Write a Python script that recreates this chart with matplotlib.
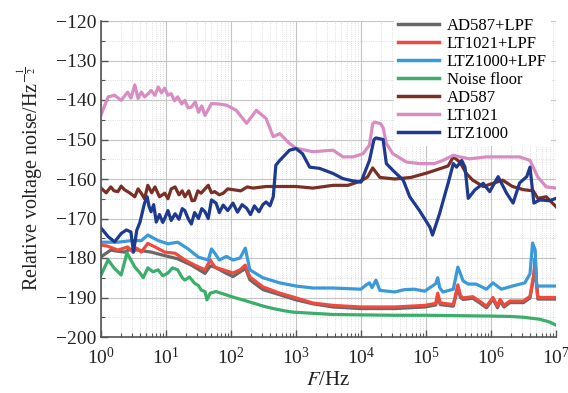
import numpy as np
import matplotlib
matplotlib.use("Agg")
import matplotlib.pyplot as plt
from matplotlib.ticker import LogLocator, MultipleLocator, NullFormatter

plt.rcParams['font.family'] = ['Liberation Serif', 'DejaVu Serif']
plt.rcParams['mathtext.fontset'] = 'stix'

# log10 of frequency and noise level (dB) for each trace
grey_lf = [0, 0.15, 0.26, 0.36, 0.45, 0.57, 0.77, 0.98, 1.18, 1.39, 1.6, 1.68, 1.75, 1.93, 2.03, 2.19, 2.22, 2.29,
           2.49, 2.75, 3.0, 3.26, 3.57, 4.0, 4.52, 4.98, 5.15, 5.18, 5.22, 5.42, 5.49, 5.53, 5.57, 5.72, 5.83, 5.93,
           6.03, 6.1, 6.14, 6.2, 6.29, 6.5, 6.6, 6.66, 6.68, 6.7, 6.72, 7.0]
grey_db = [-179.7, -178, -178.3, -178.5, -177.8, -178, -178.5, -179.4, -180.2, -181.8, -183.9, -182, -182.3, -183.9,
           -184.7, -183, -182.5, -185.5, -188, -189.3, -190.6, -191.6, -192.4, -192.8, -192.8, -192.4, -191.9,
           -189.5, -191.8, -192.2, -187.5, -190, -190.5, -190.2, -191.4, -192.6, -190.4, -192.6, -190.9, -192.4,
           -191.3, -191.3, -190.1, -184.5, -181, -186.5, -190.4, -190.4]

red_lf = [0, 0.1, 0.26, 0.41, 0.49, 0.55, 0.62, 0.72, 0.83, 0.98, 1.14, 1.29, 1.44, 1.6, 1.68, 1.75, 1.88, 2.03, 2.14,
          2.22, 2.29, 2.49, 2.75, 3.0, 3.26, 3.57, 4.0, 4.52, 4.98, 5.15, 5.18, 5.22, 5.42, 5.49, 5.53, 5.57, 5.72,
          5.83, 5.93, 6.03, 6.1, 6.14, 6.2, 6.29, 6.5, 6.6, 6.66, 6.68, 6.7, 6.72, 7.0]
red_db = [-176.7, -177, -178, -177.2, -178.5, -177.5, -178.5, -176.3, -177.2, -178.5, -178.8, -180.5, -181.8, -183,
          -180.5, -182.3, -183, -183.8, -183, -181.8, -184.8, -187.3, -188.9, -190.1, -191.4, -192, -192.4, -192.4,
          -192, -191.5, -188.9, -191.4, -191.8, -186.8, -189.5, -190.1, -189.8, -191, -192.2, -190, -192.2, -190.5,
          -192, -190.9, -190.9, -189.7, -184, -180, -186, -190, -190]

blue_lf = [0, 0.26, 0.46, 0.62, 0.72, 0.88, 1.03, 1.18, 1.34, 1.5, 1.65, 1.7, 1.76, 1.82, 1.93, 2.03, 2.14, 2.22,
           2.29, 2.49, 2.75, 3.0, 3.26, 3.57, 4.0, 4.08, 4.13, 4.17, 4.23, 4.29, 4.52, 4.67, 4.82, 4.98, 5.15, 5.18,
           5.21, 5.26, 5.42, 5.49, 5.53, 5.57, 5.65, 5.77, 5.93, 6.03, 6.16, 6.33, 6.52, 6.6, 6.64, 6.68, 6.7, 7.0]
blue_db = [-176, -176, -175.6, -175.6, -174.2, -175.6, -176.4, -176, -177.7, -179.8, -180.5, -177.7, -179, -180.5,
           -179.6, -180.5, -180, -177.5, -183, -185, -186.3, -187.1, -187.6, -187.6, -187.9, -186.8, -186.3, -187.5,
           -185.6, -188.2, -188.6, -188, -187.9, -188.4, -186.5, -185, -187.5, -188.6, -187.9, -182.3, -184, -185.8,
           -186.6, -186.6, -187.9, -186.3, -187.9, -187.1, -186.3, -184, -176.2, -178, -187.1, -187.1]

green_lf = [0, 0.11, 0.2, 0.31, 0.4, 0.52, 0.6, 0.65, 0.72, 0.8, 0.88, 0.95, 1.03, 1.1, 1.18, 1.25, 1.29, 1.36, 1.44,
            1.5, 1.54, 1.6, 1.63, 1.68, 1.77, 1.9, 2.03, 2.2, 2.34, 2.5, 2.65, 2.8, 2.95, 3.26, 3.57, 4.0, 4.5, 5.0,
            5.5, 6.0, 6.3, 6.5, 6.75, 6.9, 7.0]
green_db = [-184.3, -180.5, -182.5, -184.3, -178.7, -182.3, -183.8, -185, -182.5, -183.5, -183, -184.5, -183.8,
            -182.5, -183, -185, -185.6, -184.8, -186.4, -187, -188.1, -188.5, -190.6, -188.9, -188.5, -189.2, -189.9,
            -190.7, -191.4, -192.2, -192.8, -193.3, -193.7, -194, -194.3, -194.4, -194.5, -194.5, -194.6, -194.7,
            -194.8, -195, -195.5, -196.2, -197]

brown_lf = [0, 0.08, 0.15, 0.2, 0.26, 0.31, 0.36, 0.44, 0.52, 0.57, 0.62, 0.67, 0.72, 0.78, 0.83, 0.9, 0.98, 1.03,
            1.08, 1.14, 1.2, 1.25, 1.29, 1.35, 1.4, 1.44, 1.49, 1.54, 1.6, 1.65, 1.7, 1.75, 1.82, 1.88, 1.95, 2.03,
            2.15, 2.25, 2.34, 2.54, 2.75, 3.0, 3.26, 3.57, 3.8, 4.0, 4.1, 4.18, 4.29, 4.52, 4.77, 5.03, 5.34, 5.42,
            5.52, 5.62, 5.72, 5.88, 6.03, 6.18, 6.33, 6.5, 6.65, 6.72, 6.85, 7.0]
brown_db = [-162.3, -163.5, -162, -163, -163.2, -161.8, -162.7, -163.5, -164.5, -162.5, -163.6, -165, -161.6, -163.5,
            -162, -164.5, -163.6, -165, -162.5, -162, -164, -163, -164.5, -163, -165.5, -165.4, -163, -163.6, -162.5,
            -161.6, -163.5, -163.2, -164, -163.6, -162.5, -162.7, -163, -162, -162.3, -161.9, -161.9, -161.9, -162.3,
            -161.6, -161.6, -160.5, -159.5, -157.2, -159.6, -160, -159.6, -158.4, -156.7, -154.4, -155.7, -158.6,
            -160.3, -161.9, -161.1, -160.3, -161.9, -162.7, -163, -164.9, -164.5, -167]

pink_lf = [0, 0.11, 0.21, 0.31, 0.41, 0.46, 0.52, 0.57, 0.62, 0.67, 0.72, 0.77, 0.83, 0.88, 0.93, 0.98, 1.03, 1.08,
           1.13, 1.18, 1.24, 1.29, 1.34, 1.39, 1.45, 1.5, 1.55, 1.6, 1.7, 1.8, 1.93, 2.08, 2.24, 2.39, 2.54, 2.65,
           2.75, 2.9, 3.0, 3.26, 3.57, 3.72, 3.88, 4.03, 4.13, 4.18, 4.21, 4.3, 4.34, 4.39, 4.49, 4.7, 4.9, 5.13,
           5.26, 5.42, 5.52, 5.67, 5.93, 6.18, 6.44, 6.6, 6.72, 6.85, 7.0]
pink_db = [-143.8, -139.2, -138.8, -140.1, -138, -139.5, -136.2, -139.6, -138, -139.2, -138.5, -137.6, -138.8, -136.7,
           -138.2, -137, -138.8, -138.4, -140.2, -139.2, -141, -140.1, -142, -141.8, -140.5, -143.1, -141.5, -143.9,
           -140.9, -141, -141.3, -142.6, -145.9, -142.6, -144.7, -149.3, -148.5, -151, -152.2, -153.1, -152.7,
           -154.4, -154.4, -153.6, -151.4, -146, -145.6, -146, -147, -151, -153.6, -155.7, -156.1, -156.1, -155.3,
           -154, -154.4, -154.9, -154.4, -154.4, -154.4, -155.3, -159.5, -162, -162.3]

navy_lf = [0, 0.11, 0.21, 0.31, 0.39, 0.46, 0.5, 0.55, 0.6, 0.67, 0.71, 0.74, 0.77, 0.81, 0.85, 0.9, 0.95, 0.98, 1.03,
           1.08, 1.14, 1.2, 1.25, 1.29, 1.34, 1.39, 1.44, 1.5, 1.55, 1.6, 1.65, 1.7, 1.77, 1.82, 1.88, 1.95, 2.03,
           2.1, 2.17, 2.24, 2.3, 2.36, 2.43, 2.49, 2.54, 2.6, 2.65, 2.69, 2.75, 2.9, 3.0, 3.1, 3.21, 3.36, 3.57, 3.72,
           3.88, 4.0, 4.13, 4.2, 4.23, 4.34, 4.39, 4.49, 4.65, 4.75, 4.9, 5.06, 5.1, 5.21, 5.31, 5.34, 5.42, 5.47,
           5.55, 5.6, 5.65, 5.75, 5.88, 5.98, 6.11, 6.24, 6.34, 6.44, 6.55, 6.6, 6.66, 6.75, 6.9, 7.0]
navy_db = [-172.4, -174.6, -175.9, -173.8, -172.9, -173.4, -178.5, -173, -170.9, -166.1, -164.5, -167, -168.3,
           -166.5, -170.9, -169, -171, -170, -168, -170.5, -168.8, -170.2, -167.5, -168, -170, -171.4, -168.5, -170,
           -167.5, -168.3, -170, -165.3, -166.1, -168.5, -166.6, -168, -166.1, -168.4, -166.5, -167.4, -169, -166.8,
           -168.3, -166.5, -165.8, -166.8, -164.5, -156.5, -155.3, -152.7, -152.3, -153.6, -157, -157.3, -158.6,
           -159.9, -160.5, -160.8, -155.3, -150, -149.6, -150, -156.1, -157.8, -160.3, -164.5, -168, -172.2, -174.2,
           -168.7, -162.8, -161.1, -156.1, -157, -155.3, -157, -164.9, -162.8, -161.1, -163.2, -159.4, -163.6,
           -166.1, -161, -159.4, -157, -166.1, -165.3, -165.5, -164.9]

series = [
    ("AD587+LPF", grey_lf, grey_db, "#686868"),
    ("LT1021+LPF", red_lf, red_db, "#ee4b3e"),
    ("LTZ1000+LPF", blue_lf, blue_db, "#3a9ad9"),
    ("Noise floor", green_lf, green_db, "#3aae6a"),
    ("AD587", brown_lf, brown_db, "#7a2f25"),
    ("LT1021", pink_lf, pink_db, "#d98cc2"),
    ("LTZ1000", navy_lf, navy_db, "#1d3a8f"),
]

fig = plt.figure(figsize=(5.68, 3.93), dpi=100)
ax = fig.add_axes([101 / 568, 1 - 337 / 393, 455 / 568, 316 / 393])

for name, lf, db, col in series:
    ax.plot(10 ** np.array(lf), db, color=col, lw=2.3, label=name)

ax.set_xscale('log')
ax.set_xlim(1, 1e7)
ax.set_ylim(-200, -120)
ax.xaxis.set_major_locator(LogLocator(base=10, numticks=10))
ax.xaxis.set_minor_locator(LogLocator(base=10, subs=np.arange(2, 10), numticks=20))
ax.xaxis.set_minor_formatter(NullFormatter())
ax.yaxis.set_major_locator(MultipleLocator(10))
ax.yaxis.set_minor_locator(MultipleLocator(5))

# grid
ax.grid(which='major', color='#c4c4c4', lw=0.8, ls='-')
ax.grid(which='minor', color='#d4d4d4', lw=0.6, ls=':')
ax.set_axisbelow(True)

for s in ['top', 'right']:
    ax.spines[s].set_visible(False)
for s in ['left', 'bottom']:
    ax.spines[s].set_color('#555555')
    ax.spines[s].set_linewidth(1.2)

ax.tick_params(which='both', direction='in', colors='#555555', labelcolor='#222222', labelsize=14)
ax.tick_params(which='major', length=5, width=1)
ax.tick_params(which='minor', length=3, width=0.8)
ax.tick_params(axis='x', pad=7)

ax.set_xlabel(r"$F$/Hz", fontsize=15, color='#222222', labelpad=2)
ax.set_ylabel(r"Relative voltage noise/Hz$^{-\frac{1}{2}}$", fontsize=14.5, color='#222222', labelpad=8)

leg = ax.legend(loc='upper right', bbox_to_anchor=(551 / 568, 1 - 14 / 393), bbox_transform=fig.transFigure,
                fontsize=12, frameon=True, fancybox=False, handlelength=2.45, handletextpad=0.48,
                labelspacing=0.12, borderpad=0.25, borderaxespad=0)
leg.get_frame().set_facecolor('white')
leg.get_frame().set_edgecolor('none')
leg.get_frame().set_alpha(1)
for line in leg.get_lines():
    line.set_linewidth(2.5)

fig.savefig('out.png', dpi=100)
